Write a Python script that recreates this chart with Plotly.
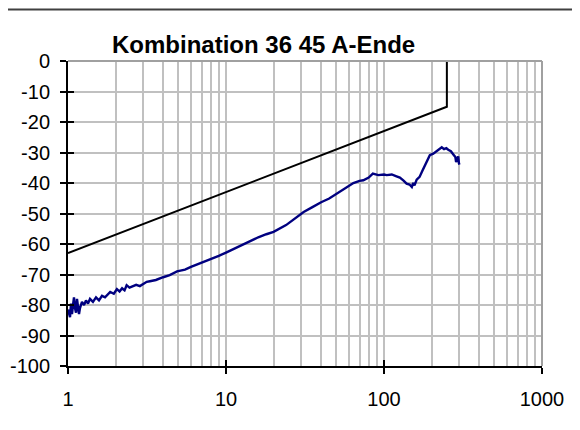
import plotly.graph_objects as go

# Limit line (black)
limit_x = [1, 250, 250]
limit_y = [-63, -15, 0]

# Measured curve (navy)
meas_x = [1.00, 1.015, 1.03, 1.045, 1.06, 1.076, 1.091, 1.107, 1.124, 1.14, 1.157, 1.174,
          1.191, 1.226, 1.263, 1.30, 1.339, 1.378, 1.439, 1.504, 1.571, 1.641, 1.715, 1.791,
          1.85, 1.95, 2.04, 2.12, 2.2, 2.28, 2.35, 2.45, 2.55, 2.7, 2.85, 3.0, 3.15, 3.3, 3.6,
          4.0, 4.4, 4.9, 5.5, 6.0, 7.0, 8.0, 9.0, 10, 12, 14, 16, 18, 20, 24, 27, 31, 35, 40,
          45, 52, 58, 64, 70, 74, 80, 85, 92, 100, 104, 112, 120, 126, 133, 139, 145, 150,
          153, 156, 161, 168, 175, 182, 188, 195, 205, 215, 225, 232, 240, 248, 255, 265,
          277, 283, 286, 290, 295, 298, 300]
meas_y = [-81.5, -83.5, -84, -79.5, -83, -80, -77.5, -81, -82.5, -78, -80, -83,
          -81, -79, -80, -78.5, -79.5, -78, -79, -77.5, -78.5, -77, -77.5, -76.5,
          -75.7, -76.3, -74.8, -75.6, -74.5, -75.2, -73.5, -74.3, -73.9, -73.4, -73.8, -73.0, -72.4, -72.2, -71.8,
          -70.9, -70.2, -69.0, -68.4, -67.5, -66.2, -65.0, -63.9, -62.8, -60.8, -59.3, -57.8, -56.8, -56.0, -53.8, -51.8, -49.5, -48.0, -46.3,
          -45.1, -43.0, -41.5, -40.0, -39.3, -39.1, -38.2, -36.9, -37.4, -37.2, -37.4, -37.2, -37.8, -38.2, -39.2, -40.2, -40.5, -41.3,
          -40.0, -40.8, -38.9, -38.0, -36.0, -34.2, -32.5, -30.9, -30.4, -29.5, -28.8, -28.3, -28.9, -28.6, -29.1, -29.6,
          -30.9, -31.5, -33.1, -32.0, -31.3, -33.5, -34.0]

title_text = "Kombination 36 45 A-Ende"
y_ticks = list(range(-100, 1, 10))
x_ticks = [1, 10, 100, 1000]

FONT = "Liberation Sans, Arial, sans-serif"

fig = go.Figure()
fig.add_trace(go.Scatter(x=limit_x, y=limit_y, mode="lines",
                         line=dict(color="black", width=2), showlegend=False))
fig.add_trace(go.Scatter(x=meas_x, y=meas_y, mode="lines",
                         line=dict(color="#000080", width=2.4), showlegend=False))
# dummy trace for the overlay axes (inside half of the cross ticks)
fig.add_trace(go.Scatter(x=[1], y=[None], xaxis="x2", yaxis="y2",
                         mode="lines", showlegend=False, hoverinfo="skip"))

# page body has an 8px margin; figure is sized so the plot area lands at 68..542 x 60.5..366
fig.update_layout(
    width=572, height=422,
    margin=dict(l=60, r=38, t=52.5, b=64, autoexpand=False),
    paper_bgcolor="white", plot_bgcolor="white",
    font=dict(family=FONT, size=20, color="black"),
    showlegend=False,
    xaxis=dict(type="log", range=[0, 3], tickvals=x_ticks, ticktext=[str(v) for v in x_ticks],
               showgrid=True, gridcolor="#c0c0c0", gridwidth=2,
               minor=dict(showgrid=True, dtick="D1", gridcolor="#c0c0c0", gridwidth=2),
               showline=True, linecolor="black", linewidth=2,
               ticks="outside", ticklen=6, tickwidth=1.5, tickcolor="black",
               ticklabelstandoff=8, mirror=False, zeroline=False, automargin=False),
    yaxis=dict(range=[-100, 0], tickvals=y_ticks, ticktext=[str(v) for v in y_ticks],
               showgrid=True, gridcolor="#c0c0c0", gridwidth=2,
               showline=True, linecolor="black", linewidth=2,
               ticks="outside", ticklen=6, tickwidth=1.5, tickcolor="black",
               ticklabelstandoff=6, zeroline=False, automargin=False),
    xaxis2=dict(type="log", range=[0, 3], overlaying="x", tickvals=x_ticks,
                showticklabels=False, showgrid=False, ticks="inside", ticklen=6,
                tickwidth=1.5, tickcolor="black", showline=False, zeroline=False,
                automargin=False),
    yaxis2=dict(range=[-100, 0], overlaying="y", tickvals=y_ticks,
                showticklabels=False, showgrid=False, ticks="inside", ticklen=6,
                tickwidth=1.5, tickcolor="black", showline=False, zeroline=False,
                automargin=False),
    shapes=[
        # gray frame on top and right of plot area
        dict(type="line", xref="x domain", yref="y domain", x0=1, x1=1, y0=0, y1=1,
             line=dict(color="#a0a0a0", width=2)),
        dict(type="line", xref="x domain", yref="y domain", x0=0, x1=1, y0=1, y1=1,
             line=dict(color="#a0a0a0", width=2)),
        # dark border line at the top of the image
        dict(type="line", xref="paper", yref="paper", x0=-60/474, x1=(572-60)/474,
             y0=1 + 51.5/305.5, y1=1 + 51.5/305.5, line=dict(color="#404040", width=2)),
    ],
    annotations=[
        dict(text="<b>" + title_text + "</b>", xref="paper", yref="paper",
             x=(263 - 68) / 474, y=1 + 1.5 / 305.5, xanchor="center", yanchor="bottom",
             showarrow=False, font=dict(family=FONT, size=24, color="black")),
    ],
)

fig.write_html("out.html")
